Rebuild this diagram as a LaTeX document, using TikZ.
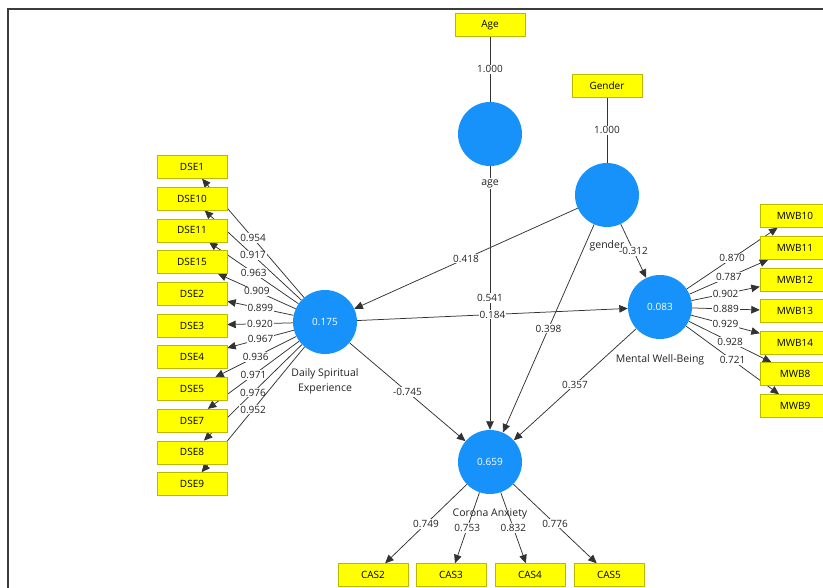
\documentclass[tikz,border=0pt]{standalone}
\usepackage{fontspec}
\setmainfont{Open Sans}
\usepackage{tikz}
\usetikzlibrary{arrows.meta,positioning}
\definecolor{indfill}{RGB}{255,255,0}
\definecolor{inddraw}{RGB}{185,185,0}
\definecolor{lvblue}{RGB}{22,146,250}
\definecolor{linkgray}{RGB}{50,50,50}
\definecolor{txtgray}{RGB}{35,35,35}
\definecolor{framegray}{RGB}{60,60,60}
\pgfdeclarelayer{bg}
\pgfsetlayers{bg,main}

\tikzset{
  indicator/.style={draw=inddraw, fill=indfill, rectangle,
    minimum width=70pt, minimum height=23pt, inner sep=0pt,
    font=\fontsize{10}{12}\selectfont},
  latent/.style={circle, fill=lvblue, minimum size=64pt, inner sep=0pt,
    text=white, font=\fontsize{10}{12}\selectfont},
  lvname/.style={inner sep=1pt, align=center, text=txtgray,
    font=\fontsize{10.5}{15}\selectfont},
  coef/.style={fill=white, inner sep=1pt, text=txtgray,
    font=\fontsize{10}{12}\selectfont},
  link/.style={draw=linkgray, line width=0.75pt,
    -{Triangle[length=8.5pt,width=7.5pt]}},
  plainlink/.style={draw=linkgray, line width=0.75pt}
}

\begin{document}
\begin{tikzpicture}[x=1pt, y=-1pt]

\useasboundingbox (0,0) rectangle (823,588);
\clip (0,0) rectangle (823,588);

% ----------------------
% Latent variables
% ----------------------
\node[latent] (age) at (490,134) {};
\node[latent] (gender) at (607,195) {};
\node[latent] (dse) at (325,322) {0.175};
\node[latent] (mwb) at (660,307) {0.083};
\node[latent] (ca) at (490,462) {0.659};

\node[lvname, fill=white, below=12pt of age] (agename) {age};
\node[lvname, below=12pt of gender] (gendername) {gender};
\node[lvname, below=13pt of dse] (dsename) {Daily Spiritual\\Experience};
\node[lvname, below=14pt of mwb] (mwbname) {Mental Well-Being};
\node[lvname, below=13pt of ca] (caname) {Corona Anxiety};

% ----------------------
% Single items
% ----------------------
\node[indicator] (agebox) at (490,25) {Age};
\node[indicator] (genderbox) at (607,86) {Gender};

% ----------------------
% Daily Spiritual Experience items
% ----------------------
\node[indicator] (dse1) at (192,167) {DSE1};
\node[indicator] (dse10) at (192,198.7) {DSE10};
\node[indicator] (dse11) at (192,230.4) {DSE11};
\node[indicator] (dse15) at (192,262.1) {DSE15};
\node[indicator] (dse2) at (192,293.8) {DSE2};
\node[indicator] (dse3) at (192,325.5) {DSE3};
\node[indicator] (dse4) at (192,357.2) {DSE4};
\node[indicator] (dse5) at (192,388.9) {DSE5};
\node[indicator] (dse7) at (192,420.6) {DSE7};
\node[indicator] (dse8) at (192,452.3) {DSE8};
\node[indicator] (dse9) at (192,484) {DSE9};

% ----------------------
% Mental Well-Being items
% ----------------------
\node[indicator] (mwb10) at (795,216) {MWB10};
\node[indicator] (mwb11) at (795,248) {MWB11};
\node[indicator] (mwb12) at (795,279.5) {MWB12};
\node[indicator] (mwb13) at (795,311) {MWB13};
\node[indicator] (mwb14) at (795,342.5) {MWB14};
\node[indicator] (mwb8) at (795,374) {MWB8};
\node[indicator] (mwb9) at (795,406) {MWB9};

% ----------------------
% Corona Anxiety items
% ----------------------
\node[indicator] (cas2) at (373,575) {CAS2};
\node[indicator] (cas3) at (451,575) {CAS3};
\node[indicator] (cas4) at (530,575) {CAS4};
\node[indicator] (cas5) at (609,575) {CAS5};

% ----------------------
% Paths (behind the boxes)
% ----------------------
\begin{pgfonlayer}{bg}
\draw[plainlink] (agebox) -- node[coef] {1.000} (age);
\draw[plainlink] (genderbox) -- node[coef] {1.000} (gender);

\draw[link] (gender) -- node[coef] {0.418} (dse);
\draw[link] (age) -- node[coef] {0.541} (ca);
\draw[link] (dse) -- node[coef] {0.184} (mwb);
\draw[link] (gender) -- node[coef] {0.398} (ca);
\draw[link] (gender) -- node[coef] {-0.312} (mwb);
\draw[link] (mwb) -- node[coef] {0.357} (ca);
\draw[link] (dse) -- node[coef] {-0.745} (ca);

\draw[link] (dse) -- node[coef] {0.954} (dse1);
\draw[link] (dse) -- node[coef] {0.917} (dse10);
\draw[link] (dse) -- node[coef] {0.963} (dse11);
\draw[link] (dse) -- node[coef] {0.909} (dse15);
\draw[link] (dse) -- node[coef] {0.899} (dse2);
\draw[link] (dse) -- node[coef] {0.920} (dse3);
\draw[link] (dse) -- node[coef] {0.967} (dse4);
\draw[link] (dse) -- node[coef] {0.936} (dse5);
\draw[link] (dse) -- node[coef] {0.971} (dse7);
\draw[link] (dse) -- node[coef] {0.976} (dse8);
\draw[link] (dse) -- node[coef] {0.952} (dse9);

\draw[link] (mwb) -- node[coef] {0.870} (mwb10);
\draw[link] (mwb) -- node[coef] {0.787} (mwb11);
\draw[link] (mwb) -- node[coef] {0.902} (mwb12);
\draw[link] (mwb) -- node[coef] {0.889} (mwb13);
\draw[link] (mwb) -- node[coef] {0.929} (mwb14);
\draw[link] (mwb) -- node[coef] {0.928} (mwb8);
\draw[link] (mwb) -- node[coef] {0.721} (mwb9);

\draw[link] (ca) -- node[coef] {0.749} (cas2);
\draw[link] (ca) -- node[coef] {0.753} (cas3);
\draw[link] (ca) -- node[coef] {0.832} (cas4);
\draw[link] (ca) -- node[coef] {0.776} (cas5);
\end{pgfonlayer}

% ----------------------
% Frame
% ----------------------
\draw[framegray, line width=1.3pt] (8,588) -- (8,9) -- (823,9);

\end{tikzpicture}
\end{document}
